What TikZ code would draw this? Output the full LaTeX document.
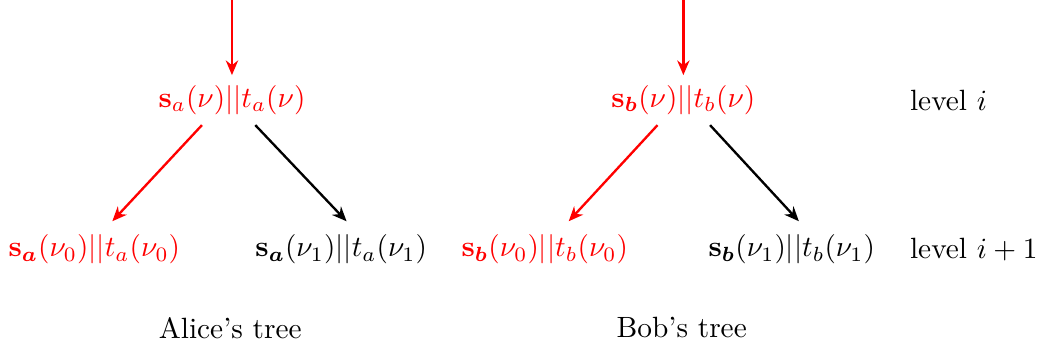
\documentclass[tikz,border=0pt]{standalone}
\usepackage{amsmath}
\usepackage{amssymb}
\usepackage{bm}
\usepackage{xcolor}
\usetikzlibrary{arrows.meta,positioning}

\begin{document}
\begin{tikzpicture}[
        treenode/.style={inner sep=3.33pt},
        edge/.style={->, thick},
        path/.style={edge, red},
        levellabel/.style={anchor=west, inner sep=0pt},
        >={Stealth[length=5pt, width=4.2pt]}
    ]
        \useasboundingbox (0,0) rectangle (12.5,4.18);
        % Alice's tree
        \node[treenode, red] (pa) at (2.78,2.98) {$\mathbf{s}_a(\nu)||t_a(\nu)$};
        \node[treenode, red] (pa0) at (1.13,1.19) {$\mathbf{s}_{\bm a}(\nu_0)||t_a(\nu_0)$};
        \node[treenode] (pa1) at (4.09,1.19) {$\mathbf{s}_{\bm a}(\nu_1)||t_a(\nu_1)$};
        \coordinate (ina) at (2.78,4.18);
        \draw[path] (ina) -- (pa);
        \draw[path, shorten >=1.5pt] ([xshift=-0.36cm]pa.south) -- ([xshift=0.18cm]pa0.north);
        \draw[edge, shorten >=1.5pt] ([xshift=0.28cm]pa.south) -- ([xshift=0.1cm]pa1.north);
        \node (capa) at (2.76,0.25) {Alice's tree};
        % Bob's tree
        \node[treenode, red] (pb) at (8.19,2.98) {$\mathbf{s}_{\bm b}(\nu)||t_b(\nu)$};
        \node[treenode, red] (pb0) at (6.53,1.19) {$\mathbf{s}_{\bm b}(\nu_0)||t_b(\nu_0)$};
        \node[treenode] (pb1) at (9.49,1.19) {$\mathbf{s}_{\bm b}(\nu_1)||t_b(\nu_1)$};
        \coordinate (inb) at (8.19,4.18);
        \draw[path] (inb) -- (pb);
        \draw[path, shorten >=1.5pt] ([xshift=-0.31cm]pb.south) -- ([xshift=0.25cm]pb0.north);
        \draw[edge, shorten >=1.5pt] ([xshift=0.32cm]pb.south) -- ([xshift=0.12cm]pb1.north);
        \node (capb) at (8.17,0.25) {Bob's tree};
        % levels
        \node[levellabel] (lvl) at (10.9,2.98) {level $i$};
        \node[levellabel] (lvlnext) at (10.9,1.19) {level $i+1$};
    \end{tikzpicture}
\end{document}
